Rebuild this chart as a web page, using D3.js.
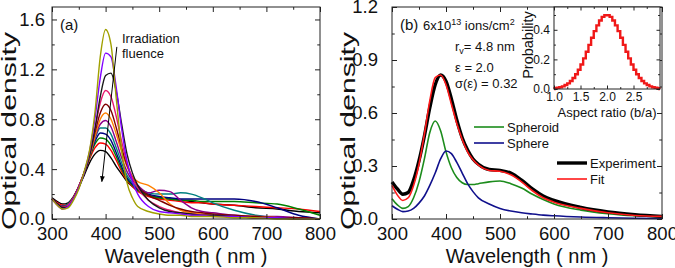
<!DOCTYPE html>
<html>
<head>
<meta charset="utf-8">
<script src="https://cdn.jsdelivr.net/npm/d3@7"></script>
<style>
  body { margin: 0; background: #fff; }
  text { font-family: "Liberation Sans", Arial, sans-serif; fill: #111; }
</style>
</head>
<body>
<div id="chart"></div>
<script>
// ---- panel (a): spectra for increasing fluence (highest peak first)
var WL_A = [300,310,320,330,340,350,360,370,380,390,400,410,420,430,440,450,460,480,500,520,540,560,580,600,640,680,720,760,800];
var A_OLIVE  = [0.16,0.11,0.08,0.09,0.15,0.24,0.38,0.55,0.85,1.30,1.52,1.40,0.96,0.55,0.29,0.17,0.10,0.06,0.04,0.03,0.03,0.02,0.02,0.02,0.01,0.01,0.0,0.0,0.0];
var A_VIOLET = [0.16,0.11,0.08,0.10,0.16,0.25,0.37,0.54,0.80,1.13,1.33,1.30,1.05,0.72,0.46,0.30,0.20,0.10,0.06,0.05,0.04,0.03,0.03,0.02,0.02,0.01,0.01,0.0,0.0];
var A_BLACK1 = [0.16,0.12,0.09,0.10,0.16,0.25,0.36,0.51,0.72,0.98,1.15,1.17,1.02,0.76,0.52,0.37,0.27,0.15,0.09,0.06,0.05,0.04,0.03,0.03,0.02,0.01,0.01,0.0,0.0];
var A_PINK   = [0.16,0.12,0.09,0.11,0.17,0.26,0.37,0.52,0.72,0.93,1.03,0.98,0.82,0.62,0.45,0.33,0.25,0.15,0.10,0.07,0.05,0.04,0.03,0.03,0.02,0.01,0.01,0.0,0.0];
var A_MAROON = [0.16,0.12,0.09,0.11,0.17,0.26,0.37,0.51,0.69,0.85,0.92,0.87,0.73,0.57,0.43,0.33,0.26,0.19,0.15,0.11,0.08,0.06,0.05,0.04,0.03,0.02,0.01,0.01,0.0];
var A_ORANGE = [0.16,0.12,0.09,0.11,0.17,0.26,0.37,0.50,0.66,0.80,0.85,0.80,0.68,0.54,0.42,0.34,0.30,0.27,0.21,0.12,0.07,0.05,0.04,0.03,0.02,0.02,0.01,0.0,0.0];
var A_PURPLE = [0.16,0.12,0.10,0.11,0.17,0.26,0.37,0.50,0.65,0.76,0.79,0.74,0.62,0.49,0.38,0.31,0.27,0.21,0.23,0.22,0.15,0.09,0.06,0.05,0.03,0.02,0.02,0.01,0.0];
var A_TEAL   = [0.16,0.12,0.10,0.12,0.17,0.26,0.37,0.50,0.64,0.73,0.73,0.68,0.57,0.45,0.35,0.29,0.25,0.21,0.20,0.20,0.21,0.20,0.17,0.13,0.07,0.03,0.01,0.0,0.0];
var A_NAVY   = [0.16,0.12,0.10,0.12,0.17,0.26,0.37,0.50,0.62,0.69,0.68,0.63,0.53,0.42,0.33,0.28,0.24,0.20,0.18,0.17,0.16,0.16,0.16,0.16,0.16,0.14,0.09,0.03,0.0];
var A_GREEN  = [0.16,0.12,0.10,0.12,0.17,0.26,0.37,0.49,0.60,0.65,0.64,0.59,0.50,0.40,0.32,0.27,0.23,0.19,0.17,0.16,0.15,0.15,0.14,0.14,0.14,0.13,0.12,0.08,0.03];
var A_RED    = [0.16,0.13,0.11,0.12,0.17,0.26,0.37,0.48,0.57,0.61,0.60,0.55,0.47,0.38,0.31,0.26,0.22,0.18,0.16,0.15,0.14,0.13,0.13,0.12,0.11,0.10,0.09,0.08,0.06];
var A_BLACK2 = [0.17,0.14,0.12,0.13,0.18,0.26,0.35,0.45,0.52,0.55,0.54,0.49,0.42,0.36,0.30,0.26,0.23,0.19,0.17,0.16,0.15,0.14,0.13,0.12,0.11,0.09,0.08,0.06,0.05];
var ARROW_A = [[421, 1.38], [393, 0.30]];   // fluence arrow, data units

// ---- panel (b): 6x10^13 ions/cm2 spectrum and fit
var WL_B = [300,310,320,330,340,350,360,370,380,390,400,410,420,430,440,450,460,480,500,520,540,560,580,600,650,700,750,800];
var B_EXPERIMENT = [0.21,0.17,0.14,0.15,0.22,0.33,0.47,0.63,0.76,0.815,0.78,0.68,0.56,0.46,0.39,0.34,0.31,0.28,0.275,0.26,0.22,0.17,0.13,0.105,0.065,0.04,0.025,0.015];
var B_FIT        = [0.19,0.135,0.105,0.12,0.19,0.31,0.48,0.67,0.80,0.815,0.76,0.65,0.54,0.45,0.38,0.335,0.305,0.275,0.27,0.25,0.21,0.16,0.12,0.095,0.06,0.035,0.02,0.015];
var B_SPHEROID   = [0.115,0.08,0.06,0.07,0.12,0.21,0.34,0.49,0.555,0.50,0.38,0.29,0.235,0.205,0.195,0.195,0.20,0.21,0.215,0.20,0.175,0.14,0.11,0.085,0.05,0.03,0.018,0.012];
var B_SPHERE     = [0.075,0.055,0.042,0.045,0.06,0.09,0.13,0.19,0.26,0.34,0.385,0.37,0.32,0.26,0.20,0.155,0.12,0.085,0.06,0.045,0.035,0.028,0.022,0.018,0.011,0.007,0.004,0.003];

// ---- inset: aspect ratio distribution
var AR_CENTERS = [1.025,1.075,1.125,1.175,1.225,1.275,1.325,1.375,1.425,1.475,1.525,1.575,1.625,1.675,1.725,1.775,1.825,1.875,1.925,1.975,
                  2.025,2.075,2.125,2.175,2.225,2.275,2.325,2.375,2.425,2.475,2.525,2.575,2.625,2.675,2.725,2.775,2.825,2.875,2.925,2.975];
var AR_PROB = [0.005,0.008,0.012,0.018,0.027,0.038,0.054,0.074,0.100,0.130,0.166,0.207,0.252,0.298,0.346,0.391,0.430,0.463,0.487,0.498,
               0.498,0.487,0.463,0.430,0.391,0.346,0.298,0.252,0.207,0.166,0.130,0.100,0.074,0.054,0.038,0.027,0.018,0.012,0.008,0.005];

var colorsA = ["#a0a000","#8000ff","#1a1a1a","#e8186e","#800000","#ff8000","#8b008b","#008080","#000080","#008000","#ff0000","#000000"];
var seriesA = [A_OLIVE, A_VIOLET, A_BLACK1, A_PINK, A_MAROON, A_ORANGE, A_PURPLE, A_TEAL, A_NAVY, A_GREEN, A_RED, A_BLACK2];

var svg = d3.select("#chart").append("svg")
    .attr("width", 675)
    .attr("height", 268);

// frame with inward ticks on all four sides
function frame(g, x, y, w, h, o) {
  function style(sel) {
    sel.select(".domain").remove();
    sel.selectAll("line").attr("stroke", "#222");
    sel.selectAll("text").style("font-size", o.fs + "px").attr("fill", "#111");
  }
  g.append("g").attr("transform", "translate(0," + h + ")")
    .call(d3.axisBottom(x).tickValues(o.xMaj).tickSize(-o.tl).tickPadding(o.xpad).tickFormat(o.xFmt)).call(style);
  g.append("g").attr("transform", "translate(0," + h + ")")
    .call(d3.axisBottom(x).tickValues(o.xMin).tickSize(-o.tl * 0.55).tickFormat("")).call(style);
  g.append("g")
    .call(d3.axisTop(x).tickValues(o.xMaj).tickSize(-o.tl).tickFormat("")).call(style);
  g.append("g")
    .call(d3.axisTop(x).tickValues(o.xMin).tickSize(-o.tl * 0.55).tickFormat("")).call(style);
  g.append("g")
    .call(d3.axisLeft(y).tickValues(o.yMaj).tickSize(-o.tl).tickPadding(o.ypad).tickFormat(o.yFmt)).call(style);
  g.append("g")
    .call(d3.axisLeft(y).tickValues(o.yMin).tickSize(-o.tl * 0.55).tickFormat("")).call(style);
  g.append("g").attr("transform", "translate(" + w + ",0)")
    .call(d3.axisRight(y).tickValues(o.yMaj).tickSize(-o.tl).tickFormat("")).call(style);
  g.append("g").attr("transform", "translate(" + w + ",0)")
    .call(d3.axisRight(y).tickValues(o.yMin).tickSize(-o.tl * 0.55).tickFormat("")).call(style);
  g.append("rect").attr("width", w).attr("height", h)
    .attr("fill", "none").attr("stroke", "#222").attr("stroke-width", 1);
}

// ================= panel (a)
var wA = 268, hA = 212;
var gA = svg.append("g").attr("transform", "translate(52,7)");
var xA = d3.scaleLinear().domain([300, 800]).range([0, wA]);
var yA = d3.scaleLinear().domain([0, 1.7]).range([hA, 0]);

var lineA = d3.line()
    .x(function(d){ return xA(d[0]); })
    .y(function(d){ return yA(d[1]); })
    .curve(d3.curveMonotoneX);

gA.append("g").selectAll("path")
  .data(seriesA.slice().reverse())
  .enter().append("path")
    .attr("d", function(s){ return lineA(s.map(function(v, i){ return [WL_A[i], v]; })); })
    .attr("fill", "none")
    .attr("stroke", function(s){ return colorsA[seriesA.indexOf(s)]; })
    .attr("stroke-width", 1.4);

svg.append("defs").append("marker")
    .attr("id", "arrowhead")
    .attr("viewBox", "0 0 10 10").attr("refX", 9).attr("refY", 5)
    .attr("markerWidth", 6).attr("markerHeight", 6)
    .attr("orient", "auto")
  .append("path").attr("d", "M0,1 L10,5 L0,9 Z").attr("fill", "#000");

gA.append("line")
    .attr("x1", xA(ARROW_A[0][0])).attr("y1", yA(ARROW_A[0][1]))
    .attr("x2", xA(ARROW_A[1][0])).attr("y2", yA(ARROW_A[1][1]))
    .attr("stroke", "#000").attr("stroke-width", 1)
    .attr("marker-end", "url(#arrowhead)");

frame(gA, xA, yA, wA, hA, {
  xMaj: [300,400,500,600,700,800], xMin: [350,450,550,650,750],
  yMaj: [0,0.4,0.8,1.2,1.6], yMin: [0.2,0.6,1.0,1.4],
  xFmt: d3.format("d"), yFmt: d3.format(".1f"),
  fs: 18.5, tl: 5, xpad: 7.5, ypad: 7
});

gA.append("text").attr("x", 8).attr("y", 23).style("font-size", "15px").text("(a)");
gA.append("text").attr("x", 70).attr("y", 36).style("font-size", "13px").text("Irradiation");
gA.append("text").attr("x", 70).attr("y", 51).style("font-size", "13px").text("fluence");

svg.append("text").attr("x", 52 + wA / 2).attr("y", 263)
    .attr("text-anchor", "middle").style("font-size", "20px").text("Wavelength ( nm )");
svg.append("text").attr("transform", "translate(15.5,131) rotate(-90)")
    .attr("text-anchor", "middle").style("font-size", "20px")
    .attr("textLength", 198).attr("lengthAdjust", "spacingAndGlyphs")
    .text("Optical density");

// ================= panel (b)
var wB = 270, hB = 212;
var gB = svg.append("g").attr("transform", "translate(392,7)");
var xB = d3.scaleLinear().domain([300, 800]).range([0, wB]);
var yB = d3.scaleLinear().domain([0, 1.2]).range([hB, 0]);

var lineB = d3.line()
    .x(function(d){ return xB(d[0]); })
    .y(function(d){ return yB(d[1]); })
    .curve(d3.curveMonotoneX);

function pts(s){ return s.map(function(v, i){ return [WL_B[i], v]; }); }

var curvesB = [
  {name: "Spheroid",   values: B_SPHEROID},
  {name: "Sphere",     values: B_SPHERE},
  {name: "Experiment", values: B_EXPERIMENT},
  {name: "Fit",        values: B_FIT}
];
var colorB = d3.scaleOrdinal().domain(["Spheroid","Sphere","Experiment","Fit"])
    .range(["#1c8c1c", "#10108c", "#000000", "#ff1a1a"]);
var widthB = d3.scaleOrdinal().domain(["Spheroid","Sphere","Experiment","Fit"])
    .range([1.6, 1.6, 3.4, 1.6]);

gB.append("g").selectAll("path")
  .data(curvesB)
  .enter().append("path")
    .attr("d", function(d){ return lineB(pts(d.values)); })
    .attr("fill", "none")
    .attr("stroke", function(d){ return colorB(d.name); })
    .attr("stroke-width", function(d){ return widthB(d.name); });

frame(gB, xB, yB, wB, hB, {
  xMaj: [300,400,500,600,700,800], xMin: [350,450,550,650,750],
  yMaj: [0,0.3,0.6,0.9,1.2], yMin: [0.15,0.45,0.75,1.05],
  xFmt: d3.format("d"), yFmt: d3.format(".1f"),
  fs: 18.5, tl: 5, xpad: 7.5, ypad: 14
});

// legends
var legB = [
  {name: "Spheroid",   y: 120, tx: 115},
  {name: "Sphere",     y: 136, tx: 115},
  {name: "Experiment", y: 156, tx: 198},
  {name: "Fit",        y: 172, tx: 198}
];
legB.forEach(function(l){
  gB.append("line")
    .attr("x1", l.tx - 33).attr("x2", l.tx - 3)
    .attr("y1", l.y).attr("y2", l.y)
    .attr("stroke", colorB(l.name)).attr("stroke-width", widthB(l.name));
  gB.append("text").attr("x", l.tx).attr("y", l.y + 4.5)
    .style("font-size", "13px").text(l.name);
});

gB.append("text").attr("x", 8).attr("y", 22.5).style("font-size", "15px").text("(b)");
var t1 = gB.append("text").attr("x", 31).attr("y", 22.5).style("font-size", "13px");
t1.append("tspan").text("6x10");
t1.append("tspan").attr("dy", -5).style("font-size", "9px").text("13");
t1.append("tspan").attr("dy", 5).text(" ions/cm");
t1.append("tspan").attr("dy", -5).style("font-size", "9px").text("2");

var t2 = gB.append("text").attr("x", 63).attr("y", 44).style("font-size", "13px");
t2.append("tspan").text("r");
t2.append("tspan").attr("dy", 3).style("font-size", "9px").text("v");
t2.append("tspan").attr("dy", -3).text("= 4.8 nm");
gB.append("text").attr("x", 63).attr("y", 64.5).style("font-size", "13px").text("ε = 2.0");
gB.append("text").attr("x", 63).attr("y", 81).style("font-size", "13px").text("σ(ε) = 0.32");

svg.append("text").attr("x", 392 + wB / 2).attr("y", 263)
    .attr("text-anchor", "middle").style("font-size", "20px").text("Wavelength ( nm )");
svg.append("text").attr("transform", "translate(355,131) rotate(-90)")
    .attr("text-anchor", "middle").style("font-size", "20px")
    .attr("textLength", 198).attr("lengthAdjust", "spacingAndGlyphs")
    .text("Optical density");

// ================= inset
var wI = 106, hI = 82;
var gI = svg.append("g").attr("transform", "translate(554,7)");
gI.append("rect").attr("width", wI).attr("height", hI).attr("fill", "#fff");
var xI = d3.scaleLinear().domain([1.0, 3.0]).range([0, wI]);
var yI = d3.scaleLinear().domain([0, 0.554]).range([hI, 0]);

var histPts = [[1.0, 0]].concat(AR_CENTERS.map(function(c, i){ return [c, AR_PROB[i]]; })).concat([[3.0, 0]]);
gI.append("path")
    .attr("d", d3.line()
        .x(function(d){ return xI(d[0]); })
        .y(function(d){ return yI(d[1]); })
        .curve(d3.curveStep)(histPts))
    .attr("fill", "none")
    .attr("stroke", "#f01818")
    .attr("stroke-width", 2.4);

frame(gI, xI, yI, wI, hI, {
  xMaj: [1.0,1.5,2.0,2.5], xMin: [1.25,1.75,2.25,2.75],
  yMaj: [0,0.2,0.4], yMin: [0.1,0.3,0.5],
  xFmt: d3.format(".1f"), yFmt: d3.format(".1f"),
  fs: 12, tl: 3.5, xpad: 3, ypad: 4
});

svg.append("text").attr("x", 554 + wI / 2).attr("y", 117)
    .attr("text-anchor", "middle").style("font-size", "13px").text("Aspect ratio (b/a)");
svg.append("text").attr("transform", "translate(533,45) rotate(-90)")
    .attr("text-anchor", "middle").style("font-size", "14.5px").text("Probability");
</script>
</body>
</html>
